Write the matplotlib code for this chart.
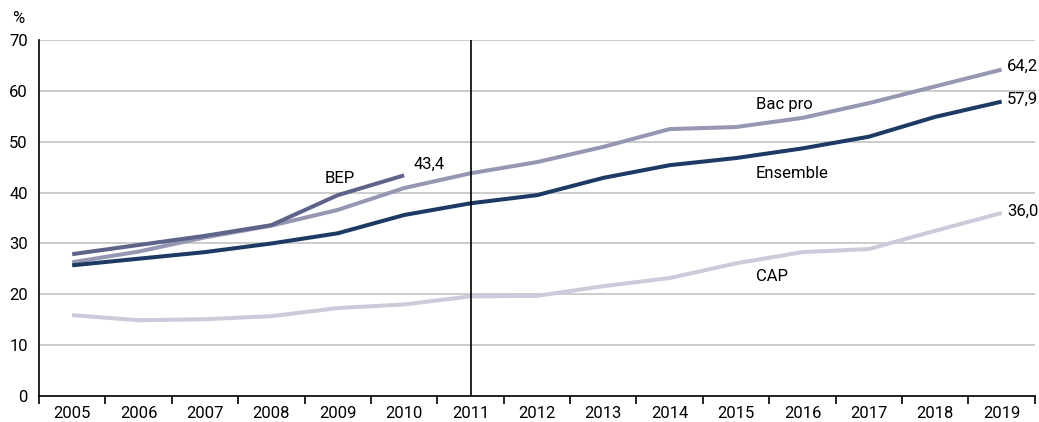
import numpy as np
import matplotlib.pyplot as plt

plt.rcParams['font.family'] = ['Roboto', 'DejaVu Sans']

# data (%)
years = [str(y) for y in range(2005, 2020)]
ensemble = [25.7, 27.0, 28.3, 30.0, 32.0, 35.6, 37.9, 39.5, 42.9, 45.4, 46.8, 48.7, 51.0, 54.9, 57.9]
bac_pro = [26.3, 28.4, 31.2, 33.5, 36.6, 40.9, 43.8, 46.0, 49.0, 52.5, 52.9, 54.7, 57.6, 60.9, 64.2]
bep = [27.9, 29.7, 31.5, 33.6, 39.5, 43.4]
cap = [15.9, 14.9, 15.1, 15.7, 17.3, 18.0, 19.6, 19.7, 21.6, 23.2, 26.1, 28.3, 28.9, 32.5, 36.0]

x = np.arange(len(years))

fig = plt.figure(figsize=(10.39, 4.22), dpi=100)
ax = fig.add_axes([0.0375, 0.0616, 0.9585, 0.8434])

lw = 2.9
ax.plot(x, cap, color='#cbcbdb', lw=lw, solid_capstyle='butt', zorder=3)
ax.plot(x, bac_pro, color='#9597b3', lw=lw, solid_capstyle='butt', zorder=4)
ax.plot(x[:len(bep)], bep, color='#5d6389', lw=lw, solid_capstyle='butt', zorder=5)
ax.plot(x, ensemble, color='#1c3a63', lw=lw, solid_capstyle='butt', zorder=6)

# break in series
ax.axvline(6, color='black', lw=1.2, zorder=7)

fs = 12

ax.set_xlim(-0.5, len(years) - 0.5)
ax.set_ylim(0, 70)
ax.set_yticks(range(0, 71, 10))
ax.yaxis.grid(True, color='#c4c4c4', lw=1.2)
ax.set_axisbelow(True)
ax.tick_params(axis='y', length=0, labelsize=fs, pad=8)

ax.set_xticks(x)
ax.set_xticklabels(years)
ax.set_xticks(np.arange(-0.5, len(years)), minor=True)
ax.tick_params(axis='x', which='major', length=0, labelsize=fs, pad=7)
ax.tick_params(axis='x', which='minor', length=6, width=1.2, direction='out')

for s in ['top', 'right']:
    ax.spines[s].set_visible(False)
for s in ['left', 'bottom']:
    ax.spines[s].set_linewidth(1.2)

ax.text(10.3, 57.3, 'Bac pro', fontsize=fs, va='center', ha='left')
ax.text(10.3, 43.7, 'Ensemble', fontsize=fs, va='center', ha='left')
ax.text(10.3, 23.5, 'CAP', fontsize=fs, va='center', ha='left')
ax.text(3.8, 42.8, 'BEP', fontsize=fs, va='center', ha='left')
ax.text(5.15, 45.5, '43,4', fontsize=fs, va='center', ha='left')
ax.text(14.08, 64.8, '64,2', fontsize=fs, va='center', ha='left', clip_on=False)
ax.text(14.08, 58.3, '57,9', fontsize=fs, va='center', ha='left', clip_on=False)
ax.text(14.08, 36.4, '36,0', fontsize=fs, va='center', ha='left', clip_on=False)

fig.text(0.012, 0.955, '%', fontsize=fs, va='center', ha='left')

fig.savefig('out.png', dpi=100)
